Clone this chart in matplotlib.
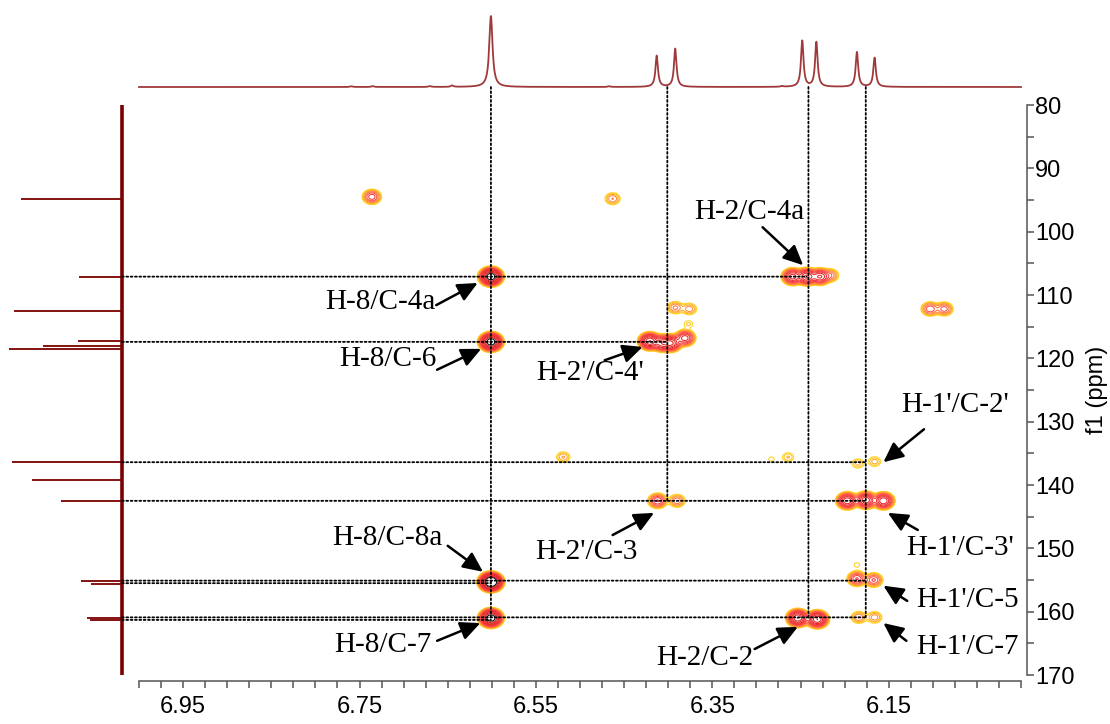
import matplotlib
matplotlib.use('Agg')
import matplotlib.pyplot as plt
from matplotlib.patches import ConnectionPatch
from matplotlib.ticker import MultipleLocator
import numpy as np

# 1H trace on top: shift (ppm) and relative height
h_shift = [6.601, 6.413, 6.392, 6.248, 6.232, 6.186, 6.166, 6.759, 6.735, 6.670, 6.645, 6.467, 6.271]
h_height = [1.0, 0.44, 0.54, 0.65, 0.63, 0.49, 0.41, 0.01, 0.012, 0.012, 0.02, 0.01, 0.01]

# 13C trace on the left: shift (ppm) and intensity
c_shift = [94.8, 107.2, 112.5, 117.3, 118.1, 118.5, 136.4, 139.2, 142.5, 155.2, 155.6, 161.0, 161.3]
c_height = [101, 43, 108, 44, 79, 113, 110, 90, 61, 41, 31, 35, 32]

# HMBC cross peaks: f2 (1H ppm), f1 (13C ppm), intensity
xp_h = [6.736, 6.463, 6.601, 6.259, 6.243, 6.228, 6.216, 6.103, 6.087, 6.601,
        6.421, 6.407, 6.397, 6.381, 6.392, 6.376, 6.377, 6.412, 6.390, 6.185,
        6.166, 6.519, 6.264, 6.283, 6.197, 6.176, 6.156, 6.601, 6.186, 6.167,
        6.186, 6.601, 6.253, 6.231, 6.184, 6.166]
xp_c = [94.5, 94.8, 107.1, 107.1, 107.1, 107.1, 106.9, 112.2, 112.2, 117.4,
        117.3, 117.6, 117.6, 116.8, 112.0, 112.2, 114.6, 142.5, 142.5, 136.6,
        136.3, 135.6, 135.6, 135.9, 142.5, 142.4, 142.5, 155.3, 154.8, 155.0,
        152.6, 161.0, 161.0, 161.2, 160.9, 160.9]
xp_i = [12, 4.5, 130, 35, 45, 30, 6, 9, 8, 130,
        60, 35, 45, 25, 5, 4, 1.6, 14, 6, 2.4,
        2.6, 3.2, 2.2, 1.2, 40, 40, 40, 200, 14, 10,
        1.2, 130, 60, 60, 4.5, 4]

# assignments: label centre, arrow tail, arrow tip (ppm)
labels = ['H-8/C-4a', 'H-8/C-6', "H-2'/C-4'", 'H-2/C-4a', "H-1'/C-2'", "H-1'/C-3'",
          "H-1'/C-5", "H-1'/C-7", "H-2'/C-3", 'H-8/C-8a', 'H-8/C-7', 'H-2/C-2']
label_xy = [(6.726, 111.1), (6.718, 120.1), (6.489, 122.3), (6.308, 96.9), (6.075, 127.4), (6.069, 150.0),
            (6.061, 158.2), (6.061, 165.6), (6.493, 150.6), (6.718, 148.4), (6.724, 165.3), (6.358, 167.3)]
tail_xy = [(6.663, 111.6), (6.662, 121.8), (6.472, 120.3), (6.293, 99.3), (6.110, 131.2), (6.117, 147.1),
           (6.129, 158.3), (6.130, 164.6), (6.463, 147.9), (6.650, 149.6), (6.662, 164.6), (6.302, 165.9)]
tip_xy = [(6.616, 108.1), (6.612, 118.5), (6.429, 118.2), (6.247, 105.3), (6.156, 136.4), (6.151, 144.4),
          (6.156, 155.9), (6.156, 161.8), (6.416, 144.4), (6.610, 153.7), (6.613, 161.8), (6.253, 162.4)]

# dotted guides: carbon rows (and where they stop), proton columns (and where they stop)
row_c = [107.1, 117.4, 136.4, 142.5, 155.1, 155.5, 160.9, 161.3]
row_end = [6.243, 6.401, 6.176, 6.176, 6.176, 6.601, 6.176, 6.601]
col_h = [6.601, 6.401, 6.241, 6.176]
col_end = [161.3, 142.5, 160.9, 160.9]

W, H = 1110, 724
fig = plt.figure(figsize=(W / 100, H / 100), dpi=100)

ax = fig.add_axes([139 / W, 1 - 675 / H, 882 / W, 570 / H])
ax_top = fig.add_axes([139 / W, 1 - 87 / H, 882 / W, 75 / H])
ax_left = fig.add_axes([5 / W, 1 - 675 / H, 117 / W, 570 / H])

# 2D contour map
gx = np.linspace(6.0, 7.0, 1400)
gy = np.linspace(80, 170, 1000)
sx, sy = 0.005, 0.55
Z = np.zeros((len(gy), len(gx)))
for h, c, a in zip(xp_h, xp_c, xp_i):
    Z += a * np.outer(np.exp(-(gy - c) ** 2 / (2 * sy ** 2)), np.exp(-(gx - h) ** 2 / (2 * sx ** 2)))
levels = 1.0 * 1.45 ** np.arange(13)
level_colors = ['#FFD21F', '#FFC61A', '#FFA726', '#FF8C38', '#FF6F3C', '#FF5040', '#F53838',
                '#F03030', '#EA2A2A', '#E52525', '#E02020', '#D01818', '#101010']
ax.contour(gx, gy, Z, levels=levels, colors=level_colors, linewidths=0.75)

ax.set_xlim(7.0, 6.0)
ax.set_ylim(170, 80)
ax.spines['top'].set_visible(False)
ax.spines['left'].set_visible(False)
for s in ['bottom', 'right']:
    ax.spines[s].set_position(('outward', 4.3))
    ax.spines[s].set_color('#555555')
    ax.spines[s].set_linewidth(1.1)
ax.yaxis.tick_right()
ax.yaxis.set_label_position('right')
ax.set_xticks([6.95, 6.75, 6.55, 6.35, 6.15])
ax.set_xticklabels(['6.95', '6.75', '6.55', '6.35', '6.15'])
ax.xaxis.set_minor_locator(MultipleLocator(0.025))
ax.set_yticks(np.arange(80, 171, 10))
ax.yaxis.set_minor_locator(MultipleLocator(5))
ax.tick_params(axis='both', which='both', direction='out', length=5, width=1.1,
               color='#555555', labelsize=17)
ax.tick_params(axis='x', which='both', pad=6)
ax.tick_params(axis='y', which='both', pad=1)
for t in ax.get_xticklabels() + ax.get_yticklabels():
    t.set_family('Liberation Sans')
ax.set_ylabel('f1 (ppm)', fontsize=17, family='Liberation Sans', labelpad=8)

# 1H trace
tx = np.linspace(6.0, 7.0, 5000)
ty = np.zeros_like(tx)
for p, a in zip(h_shift, h_height):
    w = 0.0022 if a > 0.9 else 0.0017
    ty += a * w ** 2 / ((tx - p) ** 2 + w ** 2)
ax_top.plot(tx, ty, color='#A0393B', lw=1.3, clip_on=False)
ax_top.set_xlim(7.0, 6.0)
ax_top.set_ylim(0, 75 / 71)
ax_top.axis('off')

# 13C trace
ax_left.vlines(0, 80, 170, color='#7B0000', lw=2.6, clip_on=False)
ax_left.hlines(c_shift, 0, c_height, color='#7B0000', lw=1.3, clip_on=False)
ax_left.set_xlim(117, 0)
ax_left.set_ylim(170, 80)
ax_left.axis('off')

# dotted guide lines
for c, h in zip(row_c, row_end):
    fig.add_artist(ConnectionPatch(xyA=(0, c), coordsA=ax_left.transData, xyB=(h, c),
                                   coordsB=ax.transData, color='black', lw=1.3, ls=(0, (1, 1.4))))
for h, c in zip(col_h, col_end):
    fig.add_artist(ConnectionPatch(xyA=(h, 0), coordsA=ax_top.transData, xyB=(h, c),
                                   coordsB=ax.transData, color='black', lw=1.3, ls=(0, (1, 1.4))))

# labels and arrows
for s, (lx, ly), tail, tip in zip(labels, label_xy, tail_xy, tip_xy):
    ax.text(lx, ly, s, ha='center', va='center', fontsize=21, family='Liberation Serif', clip_on=False)
    ax.annotate('', xy=tip, xytext=tail, annotation_clip=False,
                arrowprops=dict(arrowstyle='-|>,head_length=0.6,head_width=0.28', mutation_scale=20,
                                color='black', lw=1.8, shrinkA=0, shrinkB=0))

fig.savefig('out.png', dpi=100)
